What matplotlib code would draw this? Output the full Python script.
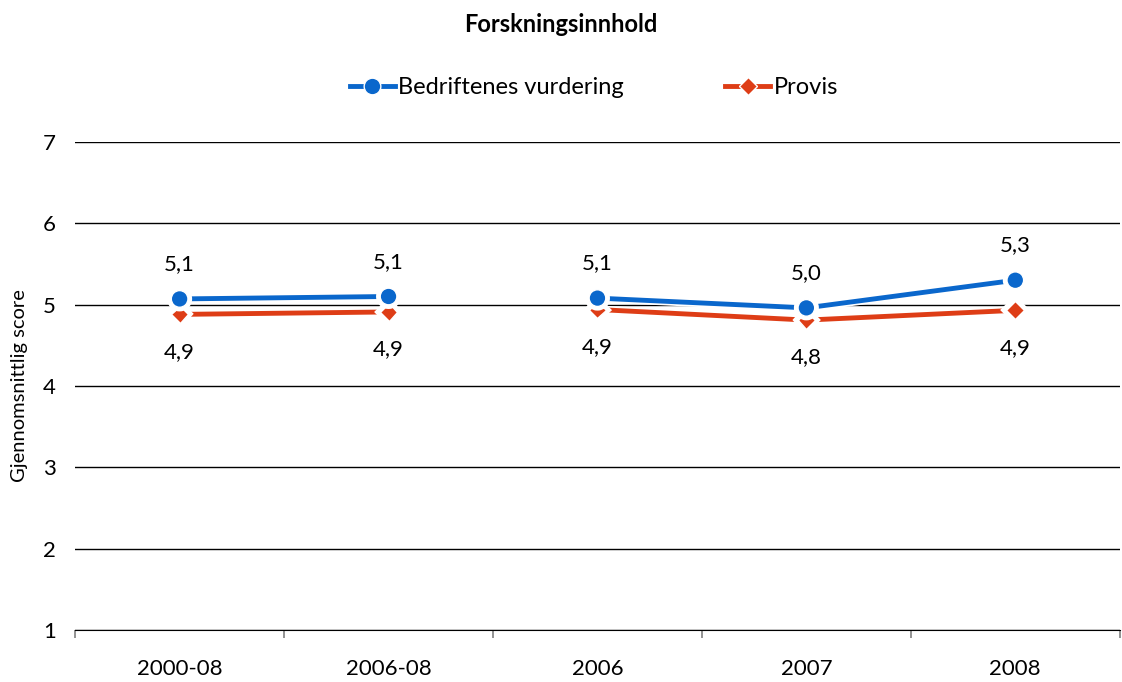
import matplotlib.pyplot as plt
import matplotlib.patheffects as pe
from matplotlib.lines import Line2D
import numpy as np

plt.rcParams['font.family'] = ['Lato', 'DejaVu Sans']

categories = ["2000-08", "2006-08", "2006", "2007", "2008"]
bedrift = [5.07, 5.10, 5.08, 4.96, 5.30]
provis = [4.88, 4.91, 4.94, 4.81, 4.93]
bedrift_labels = ["5,1", "5,1", "5,1", "5,0", "5,3"]
provis_labels = ["4,9", "4,9", "4,9", "4,8", "4,9"]
segments = [(0, 2), (2, 5)]  # the line breaks between 2006-08 and 2006

blue = "#0A67CC"
red = "#DE3D16"

fig = plt.figure(figsize=(11.22, 6.82), dpi=100)
ax = fig.add_axes([0.067, 0.076, 0.931, 0.716])

x = np.arange(len(categories))
stroke = [pe.Stroke(linewidth=6, foreground="white"), pe.Normal()]

for a, b in segments:
    ax.plot(x[a:b], bedrift[a:b], color=blue, lw=3.5, marker="o", ms=12,
            mec="white", mew=1, path_effects=stroke, zorder=4, solid_capstyle="butt")
    ax.plot(x[a:b], provis[a:b], color=red, lw=3.5, marker="D", ms=9,
            mec="white", mew=1, path_effects=stroke, zorder=3, solid_capstyle="butt")

for i in range(len(categories)):
    ax.annotate(bedrift_labels[i], (x[i], bedrift[i]), xytext=(0, 25),
                textcoords="offset points", ha="center", va="center", fontsize=16)
    ax.annotate(provis_labels[i], (x[i], provis[i]), xytext=(0, -27),
                textcoords="offset points", ha="center", va="center", fontsize=16)

ax.set_xlim(-0.5, len(categories) - 0.5)
ax.set_ylim(1, 7)
ax.set_yticks(range(1, 8))
ax.yaxis.grid(True, color="black", lw=1)
ax.set_axisbelow(True)
ax.tick_params(axis="y", length=0, labelsize=16, pad=14)

ax.set_xticks(x)
ax.set_xticklabels(categories, fontsize=16)
ax.tick_params(axis="x", length=0, pad=21)
ax.set_xticks(np.arange(-0.5, len(categories)), minor=True)
ax.tick_params(axis="x", which="minor", length=6, color="#808080", width=1.2)

for s in ["top", "right", "left"]:
    ax.spines[s].set_visible(False)
ax.spines["bottom"].set_color("black")

ax.set_ylabel("Gjennomsnittlig score", fontsize=14.5)
ax.yaxis.set_label_coords(-0.045, 0.5)

fig.text(0.5, 0.964, "Forskningsinnhold", ha="center", va="center",
         fontsize=17, fontweight="bold")

handles = [
    Line2D([], [], color=blue, lw=3.5, marker="o", ms=12, mec="white", mew=1),
    Line2D([], [], color=red, lw=3.5, marker="D", ms=9, mec="white", mew=1),
]
fig.legend(handles, ["Bedriftenes vurdering", "Provis"], loc="center",
           bbox_to_anchor=(0.5294, 0.872), ncol=2, frameon=False, fontsize=17,
           handlelength=1.9, handletextpad=0.15, columnspacing=4.3)

fig.savefig("out.png", dpi=100)
